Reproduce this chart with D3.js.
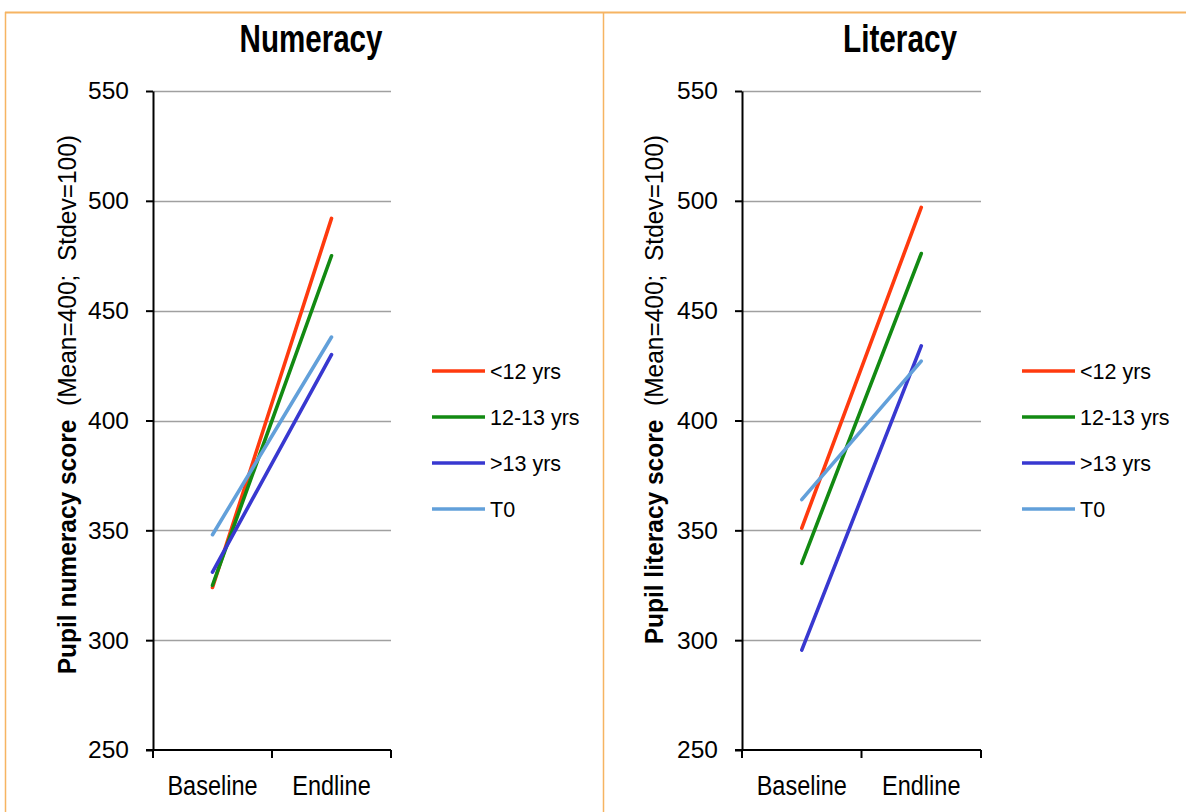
<!DOCTYPE html>
<html>
<head>
<meta charset="utf-8">
<script src="https://cdn.jsdelivr.net/npm/d3@7"></script>
<style>
  html, body { margin: 0; padding: 0; background: #fff; }
  svg { display: block; }
  text { font-family: "Liberation Sans", Arial, sans-serif; fill: #000; }
</style>
</head>
<body>
<svg id="chart" width="1186" height="812"></svg>
<script>
// ---------- data ----------
const categories = ["Baseline", "Endline"];
const seriesNames = ["<12 yrs", "12-13 yrs", ">13 yrs", "T0"];
const seriesColors = ["#FF3A0E", "#128A12", "#3838D0", "#62A0DA"];
const numeracyBaseline = [324, 325, 331, 348];
const numeracyEndline  = [492, 475, 430, 438];
const literacyBaseline = [351, 335, 295.5, 364];
const literacyEndline  = [497, 476, 434, 427];
const yTicks = [250, 300, 350, 400, 450, 500, 550];

const panels = [
  { title: "Numeracy", yBold: "Pupil numeracy score", yNorm: "  (Mean=400;  Stdev=100)",
    base: numeracyBaseline, end: numeracyEndline,
    x0: 153, x1: 391, titleX: 311, titleW: 143, labelX: 67, legendX: 432 },
  { title: "Literacy", yBold: "Pupil literacy score", yNorm: "  (Mean=400;  Stdev=100)",
    base: literacyBaseline, end: literacyEndline,
    x0: 742, x1: 981, titleX: 900, titleW: 114, labelX: 654, legendX: 1022 }
];

const svg = d3.select("#chart");
const yTop = 91, yBot = 750;
const y = d3.scaleLinear().domain([250, 550]).range([yBot, yTop]);

// ---------- frame (orange borders) ----------
const borderColor = "#F6B462";
svg.append("line").attr("x1", 5).attr("x2", 1186).attr("y1", 12.5).attr("y2", 12.5)
  .attr("stroke", borderColor).attr("stroke-width", 2);
svg.append("line").attr("x1", 5.5).attr("x2", 5.5).attr("y1", 12).attr("y2", 812)
  .attr("stroke", borderColor).attr("stroke-width", 1.5);
svg.append("line").attr("x1", 603.5).attr("x2", 603.5).attr("y1", 12).attr("y2", 812)
  .attr("stroke", borderColor).attr("stroke-width", 1.5);

panels.forEach(p => {
  const g = svg.append("g");
  const x = d3.scalePoint().domain(categories).range([p.x0, p.x1]).padding(0.5);

  // gridlines
  g.append("g").selectAll("line").data(yTicks.filter(t => t > 250)).join("line")
    .attr("x1", p.x0).attr("x2", p.x1)
    .attr("y1", d => Math.round(y(d)) + 0.5).attr("y2", d => Math.round(y(d)) + 0.5)
    .attr("stroke", "#A0A0A0").attr("stroke-width", 1.5);

  // y axis
  const yAxis = d3.axisLeft(y).tickValues(yTicks).tickSize(7).tickPadding(17).tickSizeOuter(0);
  const ya = g.append("g").attr("transform", `translate(${p.x0},0)`).call(yAxis);
  ya.select(".domain").attr("stroke", "#000").attr("stroke-width", 2);
  ya.selectAll(".tick line").attr("stroke", "#000").attr("stroke-width", 2);
  ya.selectAll(".tick text").attr("font-size", 24.5).attr("font-family", "Liberation Sans, Arial, sans-serif").attr("fill", "#000");

  // x axis (category boundaries)
  const bw = x.step();
  const xa = g.append("g");
  xa.append("line").attr("x1", p.x0 - 7).attr("x2", p.x1).attr("y1", yBot).attr("y2", yBot)
    .attr("stroke", "#000").attr("stroke-width", 2);
  xa.selectAll("line.cb").data([0, 1, 2]).join("line").attr("class", "cb")
    .attr("x1", i => p.x0 + i * bw).attr("x2", i => p.x0 + i * bw)
    .attr("y1", yBot).attr("y2", yBot + 8)
    .attr("stroke", "#000").attr("stroke-width", 2);
  xa.selectAll("text").data(categories).join("text")
    .attr("transform", d => `translate(${x(d)},${795}) scale(0.84,1)`)
    .attr("text-anchor", "middle").attr("font-size", 28)
    .text(d => d);

  // series lines
  const line = d3.line().x(d => x(d.c)).y(d => y(d.v));
  seriesNames.forEach((name, i) => {
    const pts = [{ c: categories[0], v: p.base[i] }, { c: categories[1], v: p.end[i] }];
    g.append("path").datum(pts).attr("d", line)
      .attr("fill", "none").attr("stroke", seriesColors[i])
      .attr("stroke-width", 3.6).attr("stroke-linecap", "round");
  });

  // title
  const t = g.append("text").attr("text-anchor", "middle")
    .attr("font-size", 39).attr("font-weight", "bold").text(p.title);
  const tw = t.node().getComputedTextLength();
  t.attr("transform", `translate(${p.titleX},52) scale(${p.titleW / tw},1)`);

  // y label
  const yl = g.append("text").attr("text-anchor", "end").attr("font-size", 25)
    .style("white-space", "pre")
    .attr("transform", `translate(${p.labelX + 9},135) rotate(-90) scale(0.98,1)`);
  yl.append("tspan").attr("font-weight", "bold").text(p.yBold);
  yl.append("tspan").text(p.yNorm);

  // legend
  const lg = g.append("g");
  const rowY = [371, 417, 463, 509];
  seriesNames.forEach((name, i) => {
    lg.append("line").attr("x1", p.legendX).attr("x2", p.legendX + 53)
      .attr("y1", rowY[i]).attr("y2", rowY[i])
      .attr("stroke", seriesColors[i]).attr("stroke-width", 3.6);
    lg.append("text").attr("x", p.legendX + 58).attr("y", rowY[i]).attr("dy", "0.36em")
      .attr("font-size", 21.5).text(name);
  });
});
</script>
</body>
</html>
